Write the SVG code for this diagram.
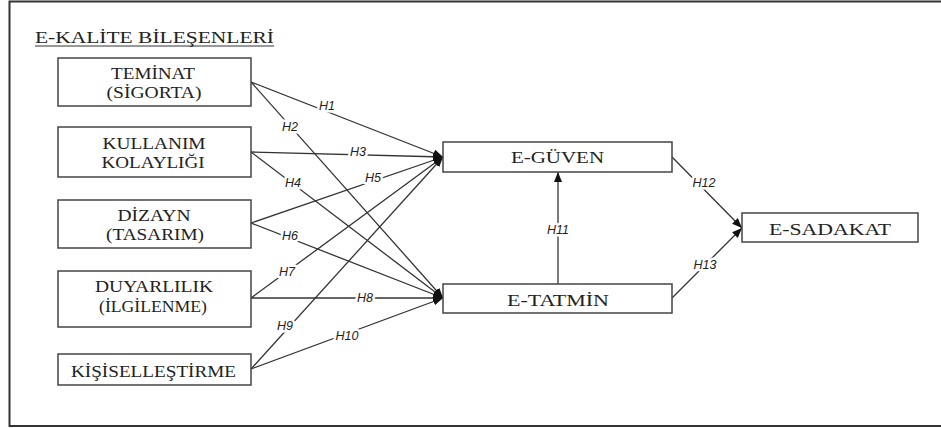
<svg xmlns="http://www.w3.org/2000/svg" width="941" height="428" viewBox="0 0 941 428">
  <style>
    .box { fill: #fff; stroke: #444; stroke-width: 1.5; }
    .lbl { font-family: "Liberation Serif", "Times New Roman", serif; font-size: 16px; fill: #222; text-anchor: middle; }
    .edge { fill: none; stroke: #333; stroke-width: 1.3; }
    .h { font-family: "Liberation Sans", Arial, sans-serif; font-style: italic; font-size: 12.5px; fill: #222; text-anchor: middle; stroke: #fff; stroke-width: 5; paint-order: stroke; stroke-linejoin: round; }
  </style>
  <defs>
    <marker id="arr" viewBox="0 0 10 8" refX="10" refY="4" markerWidth="10" markerHeight="8" markerUnits="userSpaceOnUse" orient="auto">
      <path d="M0,0 L10,4 L0,8 z" fill="#111"/>
    </marker>
  </defs>

  <rect width="941" height="428" fill="#fff"/>
  <!-- frame -->
  <path d="M941,1.5 H9.5 V426 H941" fill="none" stroke="#333" stroke-width="2"/>

  <!-- heading -->
  <text x="35" y="43" font-family="Liberation Serif, serif" font-size="16" fill="#222" textLength="239" lengthAdjust="spacingAndGlyphs">E-KALİTE BİLEŞENLERİ</text>
  <line x1="35" y1="46" x2="274" y2="46" stroke="#333" stroke-width="1"/>

  <!-- connectors -->
  <g id="connectors">
    <line class="edge" x1="251" y1="82" x2="443" y2="157" marker-end="url(#arr)"/>
    <line class="edge" x1="251" y1="82" x2="443" y2="298" marker-end="url(#arr)"/>
    <line class="edge" x1="251" y1="152" x2="443" y2="157" marker-end="url(#arr)"/>
    <line class="edge" x1="251" y1="152" x2="443" y2="298" marker-end="url(#arr)"/>
    <line class="edge" x1="251" y1="223" x2="443" y2="157" marker-end="url(#arr)"/>
    <line class="edge" x1="251" y1="223" x2="443" y2="298" marker-end="url(#arr)"/>
    <line class="edge" x1="251" y1="298" x2="443" y2="157" marker-end="url(#arr)"/>
    <line class="edge" x1="251" y1="298" x2="443" y2="298" marker-end="url(#arr)"/>
    <line class="edge" x1="251" y1="369" x2="443" y2="157" marker-end="url(#arr)"/>
    <line class="edge" x1="251" y1="369" x2="443" y2="298" marker-end="url(#arr)"/>
    <line class="edge" x1="558" y1="284" x2="558" y2="172" stroke="#666" marker-end="url(#arr)"/>
    <line class="edge" x1="672" y1="157" x2="742" y2="228" marker-end="url(#arr)"/>
    <line class="edge" x1="672" y1="298" x2="742" y2="228" marker-end="url(#arr)"/>

    <text class="h" x="327" y="110">H1</text>
    <text class="h" x="290" y="131">H2</text>
    <text class="h" x="358" y="156">H3</text>
    <text class="h" x="293" y="187">H4</text>
    <text class="h" x="373" y="182">H5</text>
    <text class="h" x="290" y="240">H6</text>
    <text class="h" x="287" y="276">H7</text>
    <text class="h" x="365" y="302">H8</text>
    <text class="h" x="285" y="330">H9</text>
    <text class="h" x="347" y="340">H10</text>
    <text class="h" x="558" y="234">H11</text>
    <text class="h" x="704" y="187">H12</text>
    <text class="h" x="705" y="269">H13</text>
  </g>

  <!-- quality components -->
  <g id="teminat">
    <rect class="box" x="58" y="58" width="193" height="48"/>
    <text class="lbl" x="153" y="79" textLength="84" lengthAdjust="spacingAndGlyphs">TEMİNAT</text>
    <text class="lbl" x="154" y="98" textLength="95" lengthAdjust="spacingAndGlyphs">(SİGORTA)</text>
  </g>
  <g id="kullanim">
    <rect class="box" x="58" y="127" width="193" height="50"/>
    <text class="lbl" x="154" y="149" textLength="103" lengthAdjust="spacingAndGlyphs">KULLANIM</text>
    <text class="lbl" x="153" y="168" textLength="103" lengthAdjust="spacingAndGlyphs">KOLAYLIĞI</text>
  </g>
  <g id="dizayn">
    <rect class="box" x="58" y="200" width="193" height="48"/>
    <text class="lbl" x="154" y="221" textLength="73" lengthAdjust="spacingAndGlyphs">DİZAYN</text>
    <text class="lbl" x="155" y="240" textLength="98" lengthAdjust="spacingAndGlyphs">(TASARIM)</text>
  </g>
  <g id="duyarlilik">
    <rect class="box" x="58" y="271" width="193" height="56"/>
    <text class="lbl" x="154" y="292" textLength="118" lengthAdjust="spacingAndGlyphs">DUYARLILIK</text>
    <text class="lbl" x="153" y="312" textLength="108" lengthAdjust="spacingAndGlyphs">(İLGİLENME)</text>
  </g>
  <g id="kisisellestirme">
    <rect class="box" x="58" y="354" width="193" height="31"/>
    <text class="lbl" x="153.5" y="377" textLength="165" lengthAdjust="spacingAndGlyphs">KİŞİSELLEŞTİRME</text>
  </g>

  <!-- outcomes -->
  <g id="e-guven">
    <rect class="box" x="443" y="142" width="229" height="30"/>
    <text class="lbl" x="557.5" y="163" textLength="93" lengthAdjust="spacingAndGlyphs">E-GÜVEN</text>
  </g>
  <g id="e-tatmin">
    <rect class="box" x="443" y="284" width="229" height="29"/>
    <text class="lbl" x="558" y="306" textLength="102" lengthAdjust="spacingAndGlyphs">E-TATMİN</text>
  </g>
  <g id="e-sadakat">
    <rect class="box" x="742" y="213" width="176" height="29"/>
    <text class="lbl" x="830" y="235" textLength="122" lengthAdjust="spacingAndGlyphs">E-SADAKAT</text>
  </g>
</svg>
